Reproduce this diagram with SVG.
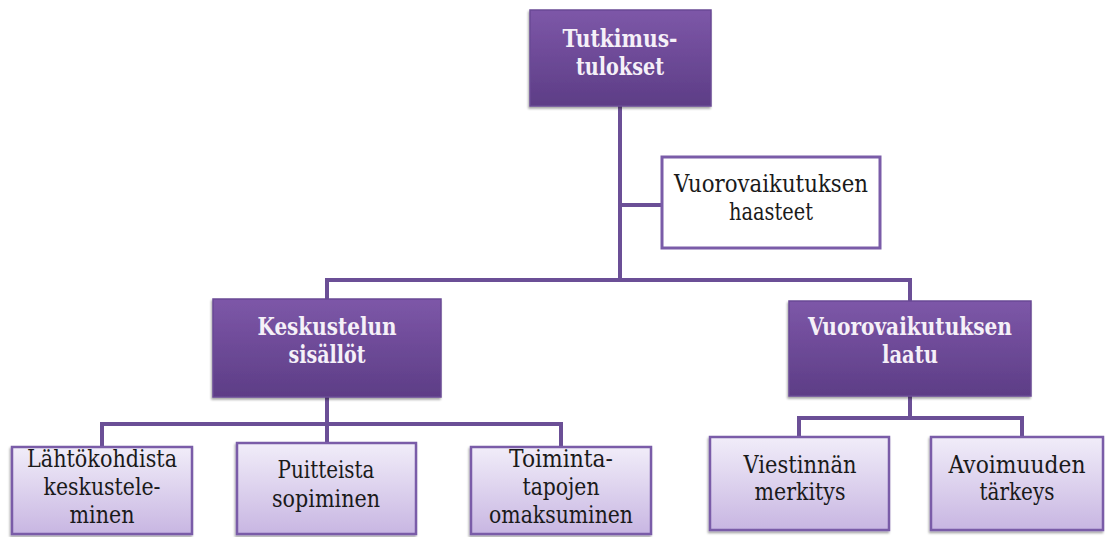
<svg xmlns="http://www.w3.org/2000/svg" width="1105" height="537" viewBox="0 0 1105 537">
<defs>
<linearGradient id="gDark" x1="0" y1="0" x2="0" y2="1">
<stop offset="0" stop-color="#7d57a8"/>
<stop offset="1" stop-color="#5d3d86"/>
</linearGradient>
<linearGradient id="gLight" x1="0" y1="0" x2="0" y2="1">
<stop offset="0" stop-color="#f1edf9"/>
<stop offset="1" stop-color="#c8b6e2"/>
</linearGradient>
<filter id="sh" x="-5%" y="-5%" width="110%" height="115%">
<feDropShadow dx="-1" dy="2" stdDeviation="1.2" flood-color="#000" flood-opacity="0.35"/>
</filter>
</defs>
<style>
.dark{fill:url(#gDark);stroke:#6a4a95;stroke-width:1.5;filter:url(#sh)}
.light{fill:url(#gLight);stroke:#7a5ca8;stroke-width:2.5;filter:url(#sh)}
.white{fill:#ffffff;stroke:#7a5ca8;stroke-width:3}
text{font-family:'DejaVu Serif',serif;text-anchor:middle;font-size:24px}
.tb{font-weight:bold;fill:#f5f0f8}
.tn{fill:#1a1a1a}
.con{fill:none;stroke:#6b4f96;stroke-width:4}
</style>
<rect width="1105" height="537" fill="#ffffff"/>
<g id="connectors">
<path class="con" d="M620,106 V280 M327,301 V280 H910 V301 M620,205 H662"/>
<path class="con" d="M327,397 V424 M102,447 V424 H561 V447 M327,424 V443"/>
<path class="con" d="M910,396 V418 M799,437 V418 H1022 V437"/>
</g>
<g id="tutkimustulokset">
<rect class="dark" x="530" y="10" width="181" height="96"/>
<text class="tb" x="620" y="47" textLength="115" lengthAdjust="spacingAndGlyphs">Tutkimus-</text>
<text class="tb" x="620" y="75" textLength="88" lengthAdjust="spacingAndGlyphs">tulokset</text>
</g>
<g id="haasteet">
<rect class="white" x="662" y="157" width="218" height="91"/>
<text class="tn" x="771" y="192" textLength="194" lengthAdjust="spacingAndGlyphs">Vuorovaikutuksen</text>
<text class="tn" x="771" y="220" textLength="84" lengthAdjust="spacingAndGlyphs">haasteet</text>
</g>
<g id="keskustelun">
<rect class="dark" x="213" y="299" width="228" height="98"/>
<text class="tb" x="327" y="335" textLength="139" lengthAdjust="spacingAndGlyphs">Keskustelun</text>
<text class="tb" x="327" y="363" textLength="77" lengthAdjust="spacingAndGlyphs">sisällöt</text>
</g>
<g id="laatu">
<rect class="dark" x="789" y="301" width="242" height="95"/>
<text class="tb" x="910" y="335" textLength="204" lengthAdjust="spacingAndGlyphs">Vuorovaikutuksen</text>
<text class="tb" x="910" y="363" textLength="56" lengthAdjust="spacingAndGlyphs">laatu</text>
</g>
<g id="lahtokohdista">
<rect class="light" x="12" y="447" width="180" height="87"/>
<text class="tn" x="102" y="467" textLength="150" lengthAdjust="spacingAndGlyphs">Lähtökohdista</text>
<text class="tn" x="102" y="495" textLength="117" lengthAdjust="spacingAndGlyphs">keskustele-</text>
<text class="tn" x="102" y="523" textLength="65" lengthAdjust="spacingAndGlyphs">minen</text>
</g>
<g id="puitteista">
<rect class="light" x="237" y="443" width="179" height="91"/>
<text class="tn" x="326" y="478" textLength="97" lengthAdjust="spacingAndGlyphs">Puitteista</text>
<text class="tn" x="326" y="507" textLength="108" lengthAdjust="spacingAndGlyphs">sopiminen</text>
</g>
<g id="toiminta">
<rect class="light" x="471" y="447" width="180" height="87"/>
<text class="tn" x="561" y="467" textLength="104" lengthAdjust="spacingAndGlyphs">Toiminta-</text>
<text class="tn" x="561" y="495" textLength="77" lengthAdjust="spacingAndGlyphs">tapojen</text>
<text class="tn" x="561" y="523" textLength="144" lengthAdjust="spacingAndGlyphs">omaksuminen</text>
</g>
<g id="viestinnan">
<rect class="light" x="710" y="437" width="179" height="93"/>
<text class="tn" x="800" y="473" textLength="113" lengthAdjust="spacingAndGlyphs">Viestinnän</text>
<text class="tn" x="800" y="500" textLength="91" lengthAdjust="spacingAndGlyphs">merkitys</text>
</g>
<g id="avoimuuden">
<rect class="light" x="931" y="437" width="172" height="93"/>
<text class="tn" x="1017" y="473" textLength="137" lengthAdjust="spacingAndGlyphs">Avoimuuden</text>
<text class="tn" x="1017" y="500" textLength="75" lengthAdjust="spacingAndGlyphs">tärkeys</text>
</g>
</svg>
